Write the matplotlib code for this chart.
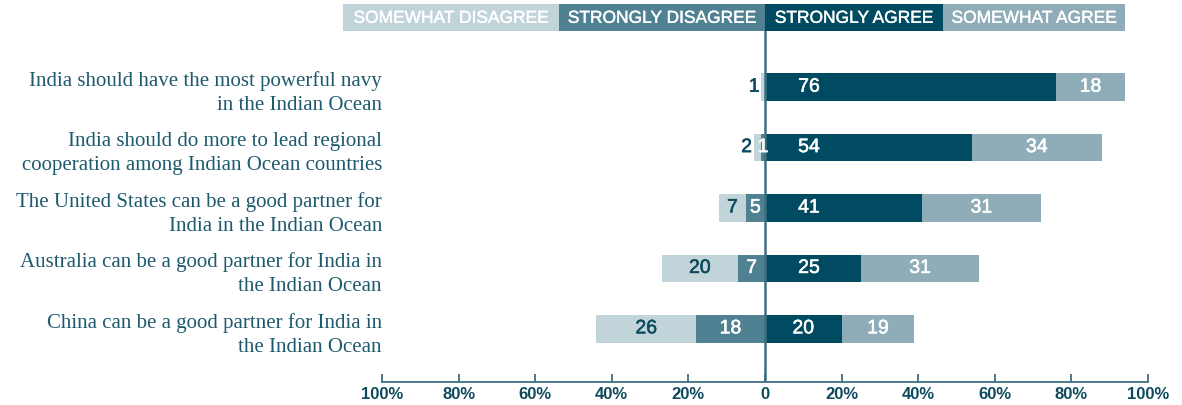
import matplotlib.pyplot as plt
import matplotlib.patheffects as pe
import numpy as np

# data (percent of respondents)
statements = [
    "India should have the most powerful navy\nin the Indian Ocean",
    "India should do more to lead regional\ncooperation among Indian Ocean countries",
    "The United States can be a good partner for\nIndia in the Indian Ocean",
    "Australia can be a good partner for India in\nthe Indian Ocean",
    "China can be a good partner for India in\nthe Indian Ocean",
]
somewhat_disagree = [1, 2, 7, 20, 26]
strongly_disagree = [0, 1, 5, 7, 18]
strongly_agree = [76, 54, 41, 25, 20]
somewhat_agree = [18, 34, 31, 31, 19]
categories = ["SOMEWHAT DISAGREE", "STRONGLY DISAGREE", "STRONGLY AGREE", "SOMEWHAT AGREE"]
tick_values = [-100, -80, -60, -40, -20, 0, 20, 40, 60, 80, 100]

# colours
c_sd = "#c1d4d9"
c_std = "#4f8192"
c_sta = "#004b61"
c_sa = "#8eadb8"
c_text = "#0e4a5e"
c_label = "#1e5a6e"
c_axis = "#3d6f82"

plt.rcParams['font.family'] = ['Liberation Sans', 'DejaVu Sans']


def heavy(color, w=0.4):
    # thicken regular glyphs a little (reference uses a medium weight)
    return [pe.withStroke(linewidth=w, foreground=color)]


fig = plt.figure(figsize=(11.82, 4.06), dpi=100)
ax = fig.add_axes([382 / 1182, 1 - 383 / 406, (1148 - 382) / 1182, (383 - 32) / 406])

y = np.arange(len(statements))
h = 0.46
sd = np.array(somewhat_disagree)
std = np.array(strongly_disagree)
sta = np.array(strongly_agree)
sa = np.array(somewhat_agree)

ax.barh(y, -std, height=h, color=c_std, zorder=2)
ax.barh(y, -sd, left=-std, height=h, color=c_sd, zorder=2)
ax.barh(y, sta, height=h, color=c_sta, zorder=2)
ax.barh(y, sa, left=sta, height=h, color=c_sa, zorder=2)

lab_kw = dict(ha='center', va='center', fontsize=14, zorder=4)
for i in y:
    # somewhat disagree: outside the bar when too thin
    if sd[i] >= 5:
        ax.text(-std[i] - sd[i] / 2, i, str(sd[i]), color=c_text,
                path_effects=heavy(c_text), **lab_kw)
    else:
        ax.text(-std[i] - sd[i] - 1.8, i, str(sd[i]), color=c_text,
                path_effects=heavy(c_text), **lab_kw)
    if std[i] > 0:
        ax.text(-std[i] / 2, i, str(std[i]), color='white',
                path_effects=heavy('white'), **lab_kw)
    ax.text(min(sta[i] / 2, 11.5), i, str(sta[i]), color='white',
            path_effects=heavy('white'), **lab_kw)
    ax.text(sta[i] + sa[i] / 2, i, str(sa[i]), color='white',
            path_effects=heavy('white'), **lab_kw)

ax.axvline(0, color=c_axis, lw=1.8, zorder=3)

ax.set_xlim(-100, 100)
ax.set_ylim(4.88, -0.93)
ax.set_yticks(y)
ax.set_yticklabels(statements, family=['Liberation Serif'], fontsize=15,
                   color=c_label, linespacing=1.36)
ax.tick_params(axis='y', length=0, pad=0)

ax.set_xticks(tick_values)
ax.set_xticklabels([f"{abs(v)}%" if v != 0 else "0" for v in tick_values],
                   fontsize=12, fontweight='bold', color=c_text)
ax.tick_params(axis='x', direction='in', length=6, width=1.3, color=c_axis, pad=3)
for s in ['top', 'right', 'left']:
    ax.spines[s].set_visible(False)
ax.spines['bottom'].set_color(c_axis)
ax.spines['bottom'].set_linewidth(1.3)

# header legend strip
hax = fig.add_axes([343 / 1182, 1 - 32 / 406, (1125 - 343) / 1182, 27 / 406])
edges = [343, 559, 765, 943, 1125]
colors = [c_sd, c_std, c_sta, c_sa]
for k, name in enumerate(categories):
    hax.barh(0, edges[k + 1] - edges[k], left=edges[k], height=1, color=colors[k])
    hax.text((edges[k] + edges[k + 1]) / 2, -0.03, name, ha='center', va='center',
             color='white', fontsize=12.5, path_effects=heavy('white', 0.3))
hax.set_xlim(edges[0], edges[-1])
hax.set_ylim(-0.5, 0.5)
hax.axis('off')

fig.savefig("out.png", dpi=100)
